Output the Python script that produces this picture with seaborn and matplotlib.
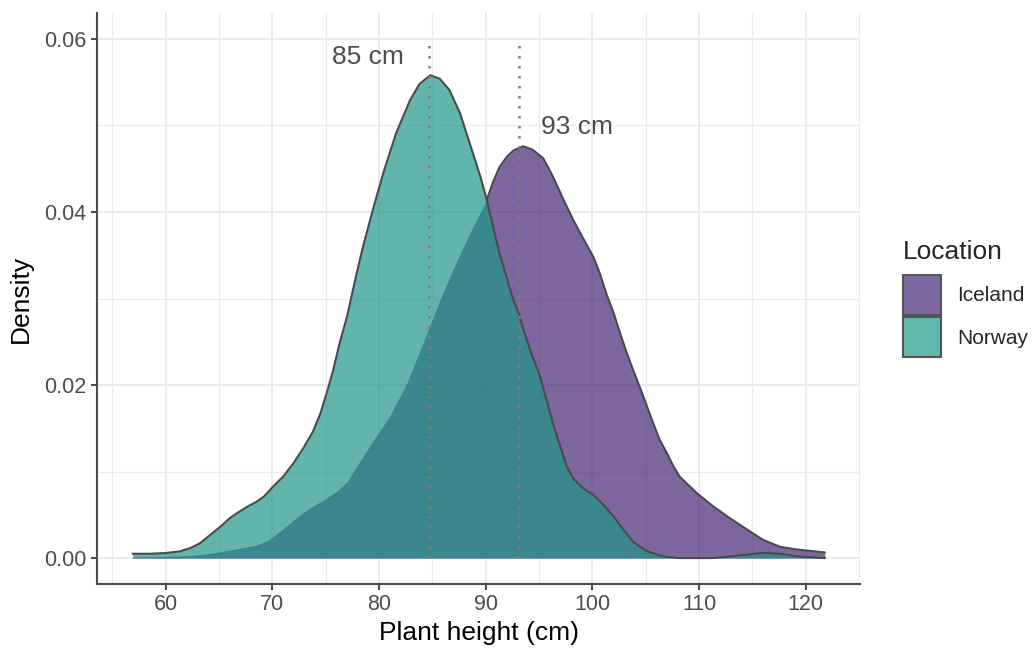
import numpy as np
import pandas as pd
import matplotlib
matplotlib.use("Agg")
import matplotlib.pyplot as plt
from matplotlib.patches import Patch
from matplotlib.ticker import MultipleLocator, FormatStrFormatter
import seaborn as sns

# ---- data (density estimates) ----
norway_x = [56.9, 58.5, 60.0, 61.3, 62.3, 63.2, 64.2, 65.1, 66.0, 66.7, 67.6, 68.5,
            69.2, 70.1, 71.0, 72.0, 72.9, 73.8, 74.5, 75.1, 75.7, 76.3, 77.0, 77.9,
            78.5, 79.5, 80.4, 81.6, 82.9, 83.8, 84.8, 85.7, 86.6, 87.6, 88.8, 89.5,
            90.1, 91.3, 92.6, 93.1, 93.5, 94.3, 95.1, 95.7, 96.3, 97.0, 97.6, 98.2,
            99.1, 100.1, 101.0, 102.0, 102.9, 103.8, 105.1, 106.6, 108.2, 111.3,
            113.8, 116.0, 117.6, 119.2, 121.8]
norway_y = [0.0005, 0.0005, 0.00058, 0.00077, 0.00115, 0.0017, 0.0027, 0.0036, 0.0046,
            0.0052, 0.0059, 0.0065, 0.0071, 0.0083, 0.0094, 0.0110, 0.0127, 0.0146,
            0.0167, 0.0191, 0.0217, 0.0248, 0.0279, 0.0329, 0.0360, 0.0406, 0.0445,
            0.0491, 0.0529, 0.0548, 0.0558, 0.0554, 0.0541, 0.0514, 0.0468, 0.0441,
            0.0414, 0.0352, 0.0298, 0.0283, 0.0266, 0.0236, 0.0210, 0.0183, 0.0156,
            0.0129, 0.0106, 0.0092, 0.0081, 0.0073, 0.0062, 0.0048, 0.0033, 0.0019,
            0.0008, 0.0002, 0.0000, 0.0000, 0.0003, 0.0006, 0.0005, 0.0002, 0.0000]

iceland_x = [56.9, 60.0, 62.3, 64.0, 65.4, 67.0, 68.5, 69.5, 70.1, 70.9, 71.6, 72.6,
             73.5, 74.8, 76.0, 77.0, 77.9, 79.5, 81.0, 82.6, 84.1, 85.7, 87.3, 88.8,
             90.1, 90.7, 91.3, 92.0, 92.6, 93.5, 94.4, 95.4, 96.3, 97.3, 98.2, 99.2,
             100.1, 100.7, 101.3, 102.0, 102.6, 103.2, 103.8, 104.5, 105.1, 105.7,
             106.3, 107.0, 107.6, 108.2, 109.8, 111.3, 112.9, 114.5, 116.0, 117.6,
             119.1, 121.8]
iceland_y = [0.0001, 0.0002, 0.0003, 0.0005, 0.0008, 0.00115, 0.0015, 0.0020, 0.0025,
             0.0033, 0.0040, 0.0050, 0.0058, 0.0067, 0.0077, 0.0088, 0.0106, 0.0137,
             0.0164, 0.0202, 0.0248, 0.0298, 0.0344, 0.0383, 0.0414, 0.0435, 0.0452,
             0.0464, 0.0471, 0.0476, 0.0472, 0.0462, 0.0441, 0.0414, 0.0391, 0.0368,
             0.0348, 0.0329, 0.0306, 0.0283, 0.0260, 0.0238, 0.0218, 0.0196, 0.0176,
             0.0156, 0.0137, 0.0121, 0.0106, 0.0094, 0.0075, 0.0060, 0.0046, 0.0033,
             0.0021, 0.0013, 0.0010, 0.00065]

locations = ["Iceland", "Norway"]
mean_heights = [93.1, 84.65]
mean_labels = ["93 cm", "85 cm"]
label_x = [95.2, 82.3]
label_y = [0.0498, 0.0579]
line_top = 0.0600

fill_colors = {"Iceland": "#482677", "Norway": "#1F968B"}
legend_colors = {"Iceland": "#7d67a0", "Norway": "#60b7ab"}
ALPHA = 0.7
OUTLINE = "#4a4a4a"

df = pd.concat([
    pd.DataFrame({"height": iceland_x, "density": iceland_y, "Location": "Iceland"}),
    pd.DataFrame({"height": norway_x, "density": norway_y, "Location": "Norway"}),
], ignore_index=True)

sns.set_theme(style="white")
plt.rcParams["font.family"] = ["Liberation Sans", "DejaVu Sans"]

fig = plt.figure(figsize=(10.34, 6.5), dpi=100)
ax = fig.add_axes([0.0938, 0.1015, 0.738, 0.8785])

ice = df[df.Location == "Iceland"]
nor = df[df.Location == "Norway"]

# Iceland fill
ax.fill_between(ice.height, 0, ice.density, color=fill_colors["Iceland"],
                alpha=ALPHA, linewidth=0, zorder=2)
# Iceland outline only where it is not under the Norway fill
nor_at_ice = np.interp(ice.height, nor.height, nor.density)
ice_vis = ice.copy()
ice_vis["density"] = np.where(ice.density.values >= nor_at_ice - 1e-4,
                              ice.density.values, np.nan)
sns.lineplot(data=ice_vis, x="height", y="density", color=OUTLINE, lw=1.5,
             ax=ax, zorder=2.5, estimator=None, sort=False)
# Norway fill + outline
ax.fill_between(nor.height, 0, nor.density, color=fill_colors["Norway"],
                alpha=ALPHA, linewidth=0, zorder=3)
sns.lineplot(data=nor, x="height", y="density", color=OUTLINE, lw=1.5,
             ax=ax, zorder=3.5, estimator=None, sort=False)
for ln in ax.lines:
    ln.set_solid_joinstyle("round")
    ln.set_solid_capstyle("round")

# mean lines and labels
for m, lab, lx, ly, ha in zip(mean_heights, mean_labels, label_x, label_y, ["left", "right"]):
    ax.plot([m, m], [0, line_top], color="#7f7f7f", lw=1.8,
            linestyle=(0, (1, 3)), zorder=4)
    ax.text(lx, ly, lab, ha=ha, va="center", fontsize=19, color="#4d4d4d", zorder=5)

ax.set_xlim(53.56, 125.1)
ax.set_ylim(-0.003, 0.063)
ax.xaxis.set_major_locator(MultipleLocator(10))
ax.xaxis.set_minor_locator(MultipleLocator(5))
ax.yaxis.set_major_locator(MultipleLocator(0.02))
ax.yaxis.set_minor_locator(MultipleLocator(0.01))
ax.yaxis.set_major_formatter(FormatStrFormatter("%.2f"))

ax.grid(which="major", color="#ebebeb", lw=1.4, zorder=0)
ax.grid(which="minor", color="#ebebeb", lw=0.9, zorder=0)
ax.set_axisbelow(True)

for s in ["top", "right"]:
    ax.spines[s].set_visible(False)
for s in ["left", "bottom"]:
    ax.spines[s].set_color("#4d4d4d")
    ax.spines[s].set_linewidth(1.5)

ax.tick_params(which="major", direction="out", length=4.5, width=1.5,
               color="#4d4d4d", labelsize=15.5, labelcolor="#4d4d4d", pad=3,
               bottom=True, left=True)
ax.tick_params(which="minor", length=0)

ax.set_xlabel("Plant height (cm)", fontsize=19, color="black", labelpad=4)
ax.set_ylabel("Density", fontsize=19, color="black", labelpad=8)

handles = [Patch(facecolor=legend_colors[l], edgecolor="#555555", linewidth=1.5, label=l)
           for l in locations]
leg = fig.legend(handles=handles, title="Location", loc="upper left",
                 bbox_to_anchor=(903 / 1034, 1 - 240 / 650), frameon=False,
                 fontsize=15, title_fontsize=19, handlelength=1.83, handleheight=2.58,
                 labelspacing=0.1, handletextpad=0.77, borderpad=0, borderaxespad=0,
                 alignment="left")
leg._legend_box.sep = 8

fig.savefig("out.png", dpi=100)
